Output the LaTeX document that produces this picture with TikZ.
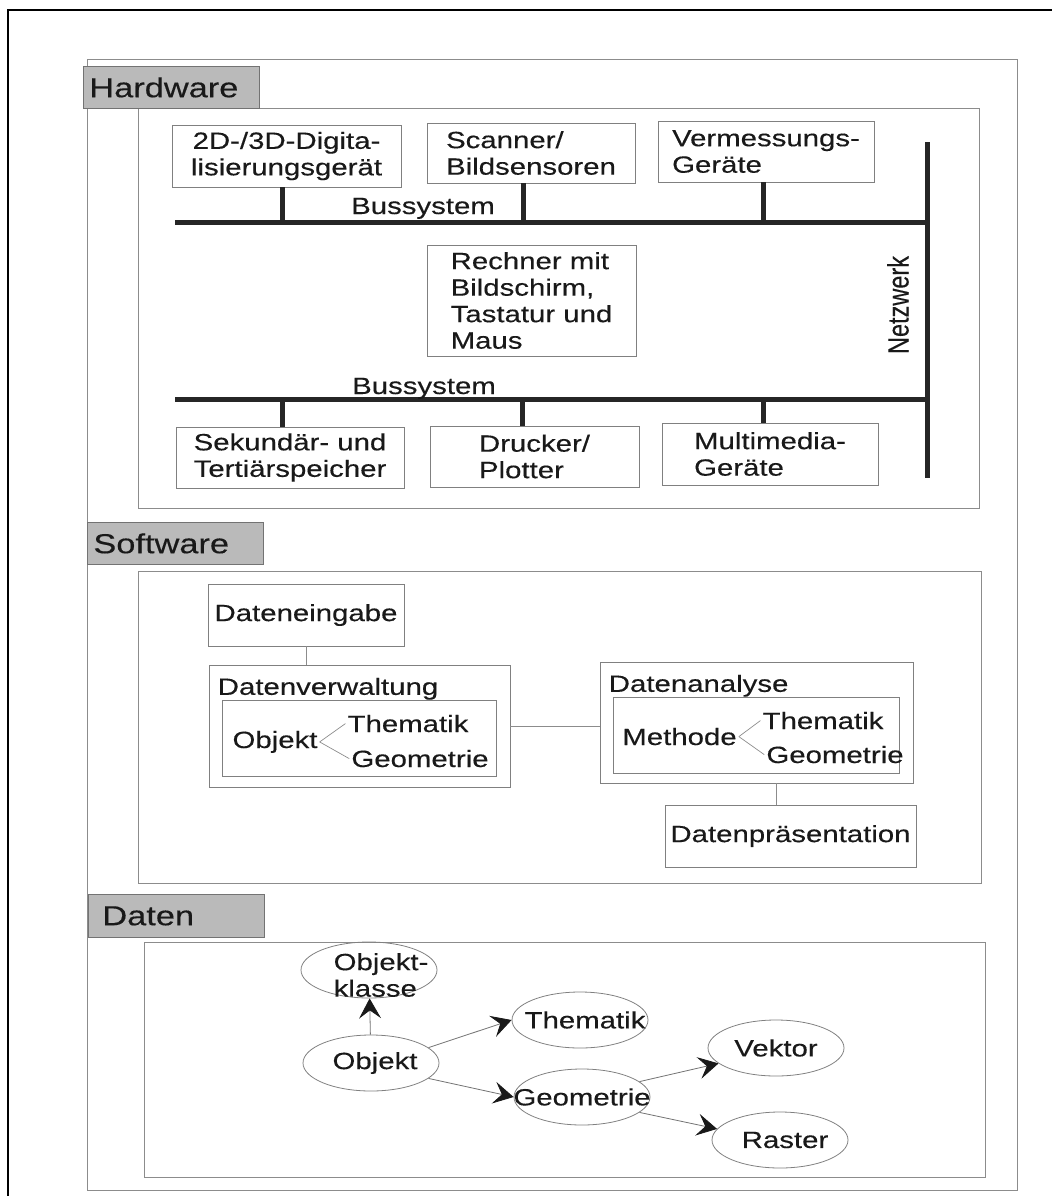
\documentclass[tikz,border=0pt]{standalone}
\usepackage{fontspec}
\setmainfont{Liberation Sans}[FakeStretch=1.25, FakeBold=0.3]
\usepackage{graphicx}
\usepackage{tikz}
\usetikzlibrary{arrows.meta, positioning, shapes.geometric}
\newcommand{\knotenschrift}{\fontsize{23.5}{26.5}\selectfont}
\newcommand{\titelschrift}{\fontsize{27.5}{30}\selectfont}

\begin{document}
\begin{tikzpicture}[
            x=1pt, y=-1pt,
            every node/.style={text=black!90, font=\knotenschrift, inner sep=2pt},
            hwbox/.style={draw=black!50, line width=0.8pt, inner sep=0pt, align=left},
            secbox/.style={draw=black!55, fill=black!27, line width=0.8pt, anchor=north west,
                minimum width=176pt, minimum height=42pt, text width=164pt, inner xsep=6pt,
                align=left, font=\titelschrift},
            rahmen/.style={draw=black!45, line width=0.8pt},
            bus/.style={draw=black!85, line width=5pt},
            linie/.style={draw=black!45, line width=0.7pt},
            datum/.style={ellipse, draw=black!50, line width=0.8pt, minimum width=136pt,
                minimum height=56pt, inner sep=0pt},
            pfeil/.style={draw=black!55, line width=0.8pt,
                -{Stealth[length=20pt, width=22pt, inset=8pt, color=black!90]}},
        ]
        \useasboundingbox (0,0) rectangle (1052,1196);
        \draw[line width=2.5pt, black] (8,1196) -- (8,10) -- (1052,10);

        \draw[rahmen] (87,59) rectangle (1017,1190);
        \draw[rahmen] (138,108) rectangle (979,508);
        \draw[rahmen] (138,571) rectangle (981,883);
        \draw[rahmen] (144,942) rectangle (985,1177);
        \node[secbox] (hwlabel) at (83,66) {Hardware};
        \node[secbox] (swlabel) at (87,522) {Software};
        \node[secbox, minimum height=43pt, inner xsep=14pt, text width=148pt] (dalabel) at (88,894) {Daten};

        \node[hwbox, minimum width=229pt, minimum height=62pt, align=center] (digi) at (286.5,156) {2D-/3D-Digita-\\lisierungsgerät};
        \node[hwbox, minimum width=208pt, minimum height=60pt] (scan) at (531,153) {Scanner/\\Bildsensoren};
        \node[hwbox, minimum width=216pt, minimum height=61pt] (verm) at (766,151.5) {Vermessungs-\\Geräte};
        \node[hwbox, minimum width=209pt, minimum height=111pt] (rech) at (531.5,300.5) {Rechner mit\\Bildschirm,\\Tastatur und\\Maus};
        \node[hwbox, minimum width=228pt, minimum height=61pt, align=center] (sek) at (290,457.5) {Sekundär- und\\Tertiärspeicher};
        \node[hwbox, minimum width=209pt, minimum height=61pt] (druck) at (534.5,456.5) {Drucker/\\Plotter};
        \node[hwbox, minimum width=216pt, minimum height=62pt] (multi) at (770,454) {Multimedia-\\Geräte};

        \coordinate (bt) at (175,222);
        \coordinate (bb) at (175,399);
        \coordinate (nt) at (927,142);
        \coordinate (nb) at (927,478);
        \draw[bus] (bt) -- (bt -| nt);
        \draw[bus] (bb) -- (bb -| nt);
        \draw[bus] (nt) -- (nb);
        \draw[bus] ([xshift=-4pt]digi.south) -- ([xshift=-4pt]digi.south |- bt);
        \draw[bus] ([xshift=-8pt]scan.south) -- ([xshift=-8pt]scan.south |- bt);
        \draw[bus] ([xshift=-3pt]verm.south) -- ([xshift=-3pt]verm.south |- bt);
        \draw[bus] ([xshift=-8pt]sek.north) -- ([xshift=-8pt]sek.north |- bb);
        \draw[bus] ([xshift=-12pt]druck.north) -- ([xshift=-12pt]druck.north |- bb);
        \draw[bus] ([xshift=-7pt]multi.north) -- ([xshift=-7pt]multi.north |- bb);
        \node[anchor=base] (bus1lbl) at (423,214) {Bussystem};
        \node[anchor=base] (bus2lbl) at (424,394) {Bussystem};
        \node[rotate=90] (netzlbl) at (898,305) {\scalebox{0.8}[1.25]{Netzwerk}};

        \node[hwbox, minimum width=196pt, minimum height=62pt] (dein) at (306,615) {Dateneingabe};
        \node[hwbox, minimum width=301pt, minimum height=122pt] (dverw) at (359.5,726) {};
        \node[anchor=north west, inner xsep=9pt, inner ysep=13pt] (dverwlbl) at (dverw.north west) {Datenverwaltung};
        \node[hwbox, minimum width=274pt, minimum height=76pt] (dverwin) at (359,738) {};
        \node[anchor=base] (obj1) at (275,748) {Objekt};
        \node[anchor=base] (them1) at (408,732) {Thematik};
        \node[anchor=base] (geo1) at (420,767) {Geometrie};
        \draw[linie] (obj1.east) -- (them1.west);
        \draw[linie] (obj1.east) -- (geo1.west);

        \node[hwbox, minimum width=313pt, minimum height=121pt] (danal) at (756.5,722.5) {};
        \node[anchor=north west, inner xsep=9pt, inner ysep=13pt] (danallbl) at (danal.north west) {Datenanalyse};
        \node[hwbox, minimum width=286pt, minimum height=76pt] (danalin) at (756,735) {};
        \node[anchor=base] (meth) at (679.5,745) {Methode};
        \node[anchor=base] (them2) at (823,729) {Thematik};
        \node[anchor=base] (geo2) at (835,763) {Geometrie};
        \draw[linie] (meth.east) -- (them2.west);
        \draw[linie] (meth.east) -- (geo2.west);
        \node[hwbox, minimum width=251pt, minimum height=62pt] (dpraes) at (790.5,836) {Datenpräsentation};

        \draw[linie] (dein.south) -- (dein.south |- dverw.north);
        \draw[linie] (dverw.east) -- (dverw.east -| danal.west);
        \draw[linie] ([xshift=-14pt]dpraes.north) -- ([xshift=-14pt]dpraes.north |- danal.south);

        \node[datum, label={[align=left, xshift=12pt, yshift=-5pt]center:Objekt-\\klasse}] (okl) at (369,970) {};
        \node[datum, label={[xshift=4pt]center:Objekt}] (obj) at (371,1063) {};
        \node[datum, label={[xshift=5pt]center:Thematik}] (them) at (580,1020) {};
        \node[datum, label={center:Geometrie}] (geo) at (582,1097) {};
        \node[datum, label={center:Vektor}] (vek) at (776,1048) {};
        \node[datum, label={[xshift=5pt]center:Raster}] (ras) at (780,1140) {};
        \draw[pfeil] (obj) -- (okl);
        \draw[pfeil] (obj.15) -- (them.west);
        \draw[pfeil] (obj.-15) -- (geo.west);
        \draw[pfeil] (geo.15) -- (vek.195);
        \draw[pfeil] (geo.-15) -- (ras.170);
        \end{tikzpicture}
\end{document}
